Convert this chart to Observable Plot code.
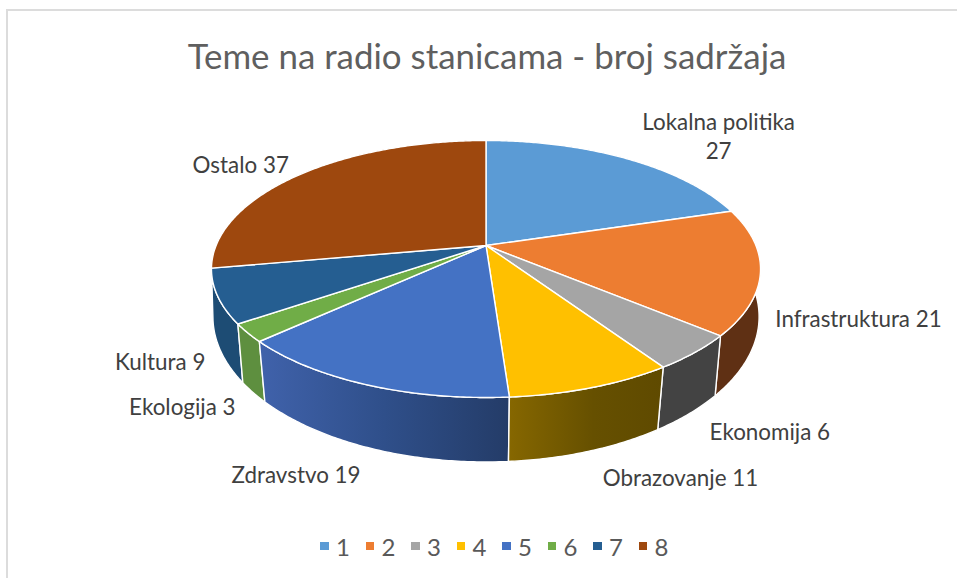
<!DOCTYPE html>
<html>
<head>
<meta charset="utf-8">
<script src="https://cdn.jsdelivr.net/npm/d3@7"></script>
<script src="https://cdn.jsdelivr.net/npm/@observablehq/plot@0.6"></script>
<style>
html,body{margin:0;padding:0;background:#fff;overflow:hidden}
#frame{position:relative;width:957px;height:578px;font-family:Lato,sans-serif;overflow:hidden}
#frame:before{content:"";position:absolute;left:6px;top:9px;right:-5px;bottom:-5px;border:2px solid #dcdcdc}
#title{position:absolute;left:8px;top:33px;width:958px;text-align:center;font-size:34.9px;line-height:46px;color:#5f5f5f;white-space:nowrap}
#chart{position:absolute;left:0;top:90px}
#legend{position:absolute;left:320px;top:532px;height:28px;display:flex;align-items:center;font-size:24px;color:#595959}
#legend .item{display:flex;align-items:center;width:45.5px}
#legend .sw{width:8.6px;height:8px;margin-right:7.5px}
</style>
</head>
<body>
<div id="frame">
  <div id="title"></div>
  <div id="chart"></div>
  <div id="legend"></div>
</div>
<script>
const chartTitle = "Teme na radio stanicama - broj sadržaja";
const topics = ["Lokalna politika","Infrastruktura","Ekonomija","Obrazovanje","Zdravstvo","Ekologija","Kultura","Ostalo"];
const counts = [27,21,6,11,19,3,9,37];
const legendKeys = ["1","2","3","4","5","6","7","8"];
const topColors = ["#5b9bd5","#ed7d31","#a5a5a5","#ffc000","#4472c4","#70ad47","#255e91","#9e480e"];
const sideColors = ["#365d80","#5f3014","#434343","url(#side4)","url(#side5)","#5e8f3f","#1d4c74","#5f2b08"];
const labelTexts = ["Lokalna politika\n27","Infrastruktura 21","Ekonomija 6","Obrazovanje 11","Zdravstvo 19","Ekologija 3","Kultura 9","Ostalo 37"];

// perspective model of the pie disks (page pixels)
const cx = 485.5;
const topDisk = {a: 269.9, b: 124.2, y0: 245, k: 0.1829};
const baseDisk = {a: 270, b: 142, y0: 294.4, k: 0.15};
const labelOffset = [[92.5,-23],[98,46],[75,78],[88.5,89],[-70,89],[-65.5,72.5],[-57.5,64],[-60,-10]];

const total = d3.sum(counts);
const toAngle = c => c / total * 2 * Math.PI;
function rim(disk, t) {
  const u = Math.sin(t), v = -Math.cos(t), w = 1 - disk.k * v;
  return {x: cx + disk.a * u / w, y: disk.y0 + disk.b * v / w};
}
const cumul = d3.cumsum(counts);
const slices = counts.map((c, i) => ({i, a0: toAngle(cumul[i] - c), a1: toAngle(cumul[i])}));
function sweep(s) {
  const n = Math.max(2, Math.ceil((s.a1 - s.a0) / 0.01));
  return d3.range(n + 1).map(j => s.a0 + (s.a1 - s.a0) * j / n);
}
const topPts = slices.flatMap(s => {
  const arc = sweep(s).map(t => rim(topDisk, t));
  const apex = {x: cx, y: topDisk.y0};
  return [apex, ...arc, apex].map(p => ({...p, s: s.i, paint: topColors[s.i]}));
});
// back walls are painted first, so the front walls cover them
const depth = s => -Math.cos((s.a0 + s.a1) / 2);
const sidePts = slices.slice().sort((a, b) => depth(a) - depth(b)).flatMap(s => {
  const ts = sweep(s);
  const pts = [...ts.map(t => rim(topDisk, t)), ...ts.slice().reverse().map(t => rim(baseDisk, t))];
  pts.push(pts[0]);
  return pts.map(p => ({...p, s: s.i, paint: sideColors[s.i]}));
});
const labelPts = slices.map(s => {
  const p = rim(topDisk, (s.a0 + s.a1) / 2);
  return {x: p.x + labelOffset[s.i][0], y: p.y + labelOffset[s.i][1], text: labelTexts[s.i]};
});

const gradients = () => d3.create("svg:defs").html(`
  <linearGradient id="side4" x1="0" x2="1" y1="0" y2="0"><stop offset="0" stop-color="#866700"/><stop offset="0.55" stop-color="#665000"/><stop offset="1" stop-color="#5f4a00"/></linearGradient>
  <linearGradient id="side5" x1="0" x2="1" y1="0" y2="0"><stop offset="0" stop-color="#4062ab"/><stop offset="0.5" stop-color="#2f4f8a"/><stop offset="1" stop-color="#243c68"/></linearGradient>
`).node();

const paint = {value: d => d.paint, scale: null};
const chart = Plot.plot({
  width: 957, height: 430, margin: 0,
  style: {background: "transparent", fontFamily: "Lato,sans-serif", overflow: "visible"},
  x: {domain: [0, 957], range: [0, 957], axis: null},
  y: {domain: [90, 520], range: [0, 430], axis: null},
  marks: [
    gradients,
    Plot.line(sidePts, {x: "x", y: "y", z: "s", fill: paint, stroke: "#fff", strokeWidth: 1.4, strokeLinejoin: "round"}),
    Plot.line(topPts, {x: "x", y: "y", z: "s", fill: paint, stroke: "#fff", strokeWidth: 1.4, strokeLinejoin: "round"}),
    Plot.text(labelPts, {x: "x", y: "y", text: "text", fontSize: 22.4, lineHeight: 1.3, fill: "#404040", textAnchor: "middle"})
  ]
});
document.getElementById("chart").append(chart);
document.getElementById("title").textContent = chartTitle;
const legend = d3.select("#legend").selectAll("div").data(legendKeys).join("div").attr("class", "item");
legend.append("span").attr("class", "sw").style("background", (d, i) => topColors[i]);
legend.append("span").text(d => d);
</script>
</body>
</html>
